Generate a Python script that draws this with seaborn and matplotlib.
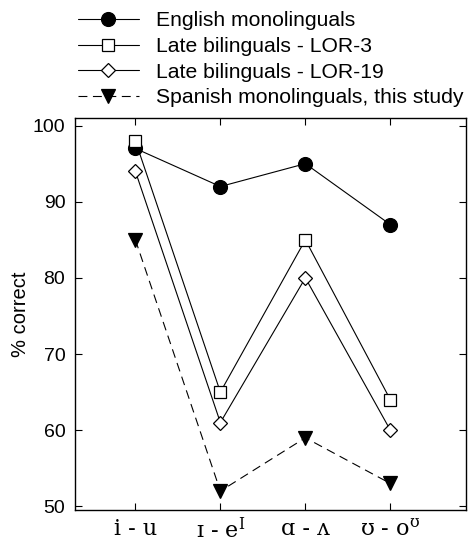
import numpy as np
import pandas as pd
import seaborn as sns
import matplotlib.pyplot as plt

contrasts = ["i - u", r"ɪ - e$^{\mathrm{I}}$", "ɑ - ʌ", r"ʊ - o$^{\mathrm{ʊ}}$"]
english_mono = [97, 92, 95, 87]
late_lor3 = [98, 65, 85, 64]
late_lor19 = [94, 61, 80, 60]
spanish_mono = [85, 52, 59, 53]

groups = ["English monolinguals", "Late bilinguals - LOR-3",
          "Late bilinguals - LOR-19", "Spanish monolinguals, this study"]
series = [english_mono, late_lor3, late_lor19, spanish_mono]

rows = []
for g, vals in zip(groups, series):
    for i, v in enumerate(vals):
        rows.append({"group": g, "x": i, "pct": v})
df = pd.DataFrame(rows)

sns.set_style("ticks", {"axes.edgecolor": "black", "text.color": "black",
                        "axes.labelcolor": "black", "xtick.color": "black",
                        "ytick.color": "black"})
plt.rcParams['font.family'] = ['Liberation Sans', 'DejaVu Sans']
plt.rcParams['mathtext.fontset'] = 'dejavuserif'

fig = plt.figure(figsize=(4.69, 5.45), dpi=100)
ax = fig.add_axes([0.16, 0.064, 0.8336, 0.7195])

styles = {
    groups[0]: dict(marker="o", mfc="black", ls="-", ms=10),
    groups[1]: dict(marker="s", mfc="white", ls="-", ms=9),
    groups[2]: dict(marker="D", mfc="white", ls="-", ms=7.5),
    groups[3]: dict(marker="v", mfc="black", ls=(0, (8, 5)), ms=10),
}
for g in groups:
    st = styles[g]
    sns.lineplot(data=df[df.group == g], x="x", y="pct", ax=ax, color="black",
                 lw=0.8, marker=st["marker"], markersize=st["ms"],
                 markerfacecolor=st["mfc"], markeredgecolor="black",
                 markeredgewidth=0.9, linestyle=st["ls"], label=g, legend=False)

ax.set_xlim(-0.71, 3.89)
ax.set_ylim(49.5, 101)
ax.set_xticks(range(4))
ax.set_xticklabels(contrasts, family=['DejaVu Serif'], fontsize=16)
ax.set_yticks([50, 60, 70, 80, 90, 100])
ax.tick_params(axis='y', labelsize=14, direction='in', right=True, length=5, pad=7)
ax.tick_params(axis='x', direction='in', top=True, length=5, pad=6)
ax.set_xlabel("")
ax.set_ylabel("% correct", fontsize=14.5, labelpad=2)
for s in ax.spines.values():
    s.set_linewidth(1.0)

handles, labels = ax.get_legend_handles_labels()
fig.legend(handles, labels, loc="upper left", bbox_to_anchor=(0.148, 0.995),
           frameon=False, fontsize=15.2, handlelength=2.9, handletextpad=0.8,
           labelspacing=0.32, borderaxespad=0)

fig.savefig("out.png", dpi=100)
